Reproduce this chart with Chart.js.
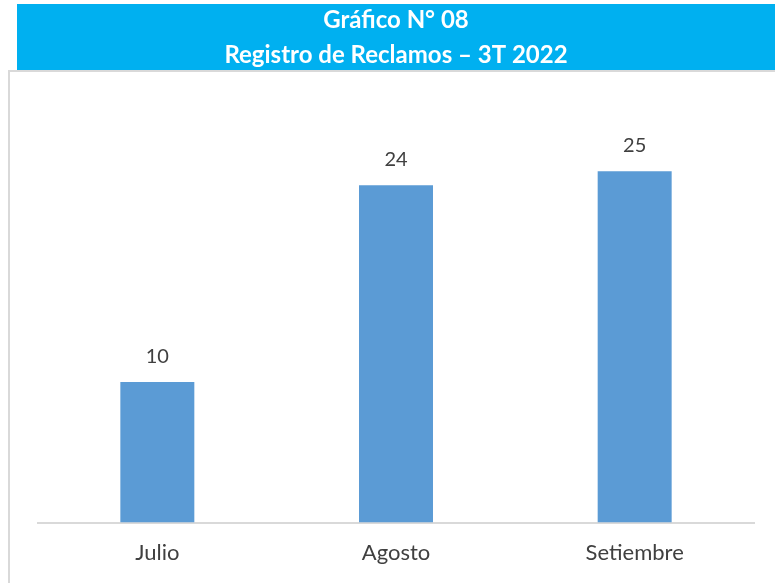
<!DOCTYPE html>
<html>
<head>
<meta charset="utf-8">
<script src="https://cdn.jsdelivr.net/npm/chart.js@4/dist/chart.umd.min.js"></script>
<style>
html,body{margin:0;padding:0;background:#fff;}
#wrap{width:775px;height:583px;position:relative;}
</style>
</head>
<body>
<div id="wrap"><canvas id="c"></canvas></div>
<script>
const categories = ["Julio", "Agosto", "Setiembre"];
const reclamos = [10, 24, 25];
const titleLines = ["Gráfico N° 08", "Registro de Reclamos – 3T 2022"];

const frame = {
  id: 'frame',
  beforeDraw(chart) {
    const ctx = chart.ctx;
    ctx.save();
    ctx.fillStyle = '#ffffff';
    ctx.fillRect(0, 0, chart.width, chart.height);
    ctx.strokeStyle = '#d9d9d9';
    ctx.lineWidth = 2;
    ctx.beginPath();
    ctx.moveTo(9, chart.height);
    ctx.lineTo(9, 71);
    ctx.lineTo(chart.width, 71);
    ctx.stroke();
    ctx.fillStyle = '#00B0F0';
    ctx.fillRect(17, 4, chart.width - 17, 66);
    ctx.restore();
  }
};

const valueLabels = {
  id: 'valueLabels',
  afterDatasetsDraw(chart) {
    const ctx = chart.ctx;
    ctx.save();
    ctx.font = '20px Lato, "Open Sans", sans-serif';
    ctx.fillStyle = '#404040';
    ctx.textAlign = 'center';
    ctx.textBaseline = 'middle';
    chart.data.datasets.forEach((ds, i) => {
      chart.getDatasetMeta(i).data.forEach((bar, j) => {
        ctx.fillText(String(ds.data[j]), bar.x, bar.y - 26);
      });
    });
    ctx.restore();
  }
};

new Chart(document.getElementById('c'), {
  type: 'bar',
  data: {
    labels: categories,
    datasets: [{
      data: reclamos,
      backgroundColor: '#5B9BD5',
      borderWidth: 0,
      categoryPercentage: 1,
      barPercentage: 0.31
    }]
  },
  options: {
    responsive: true,
    maintainAspectRatio: false,
    animation: false,
    layout: { padding: { left: 38, right: 21, top: 0, bottom: 0 } },
    plugins: {
      legend: { display: false },
      tooltip: { enabled: false },
      title: {
        display: true,
        text: titleLines,
        color: '#ffffff',
        font: { family: 'Lato, "Open Sans", sans-serif', size: 24, weight: 'bold', lineHeight: 1.458 },
        padding: { top: 3, bottom: 28 }
      }
    },
    scales: {
      x: {
        grid: { display: false, drawTicks: false },
        border: { display: true, color: '#d9d9d9', width: 2 },
        ticks: { color: '#404040', padding: 17, font: { family: 'Lato, "Open Sans", sans-serif', size: 22 } }
      },
      y: {
        display: false,
        min: 0,
        max: 30
      }
    }
  },
  plugins: [frame, valueLabels]
});
</script>
</body>
</html>
